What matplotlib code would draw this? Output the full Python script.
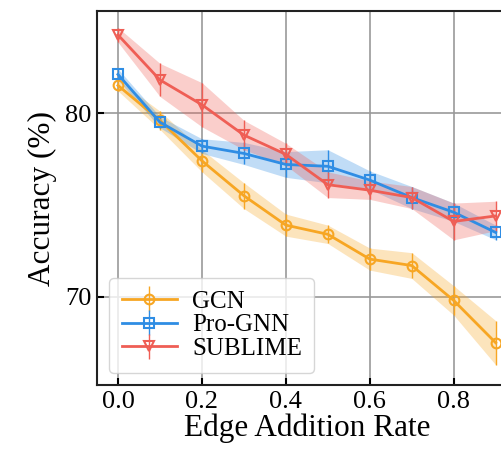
import numpy as np
import matplotlib.pyplot as plt

plt.rcParams['font.family'] = ['Liberation Serif', 'DejaVu Serif']
plt.rcParams['mathtext.fontset'] = 'stix'

rates = [0.0, 0.1, 0.2, 0.3, 0.4, 0.5, 0.6, 0.7, 0.8, 0.9]

gcn_mean = [81.5, 79.6, 77.4, 75.5, 73.9, 73.4, 72.05, 71.7, 69.8, 67.5]
gcn_std = [0.3, 0.5, 0.6, 0.7, 0.6, 0.5, 0.6, 0.7, 0.8, 1.2]

prognn_mean = [82.1, 79.5, 78.2, 77.8, 77.2, 77.1, 76.35, 75.4, 74.6, 73.5]
prognn_std = [0.3, 0.3, 0.4, 0.6, 0.7, 0.9, 0.5, 0.6, 0.5, 0.4]

sublime_mean = [84.25, 81.8, 80.45, 78.8, 77.75, 76.1, 75.8, 75.4, 74.1, 74.4]
sublime_std = [0.4, 0.9, 1.2, 0.8, 0.6, 0.7, 0.5, 0.6, 1.0, 0.8]

series = [
    ('GCN', gcn_mean, gcn_std, '#f7a623', 'o'),
    ('Pro-GNN', prognn_mean, prognn_std, '#2f8de4', 's'),
    ('SUBLIME', sublime_mean, sublime_std, '#ef5e55', 'v'),
]

fig = plt.figure(figsize=(5.01, 4.51), dpi=100)
# axes runs past the right edge of the figure, like the cropped original
ax = fig.add_axes([0.1936, 0.1463, 0.8377, 0.8293])

x = np.array(rates)
for name, mean, std, color, marker in series:
    mean = np.array(mean)
    std = np.array(std)
    ax.fill_between(x, mean - std, mean + std, color=color, alpha=0.3, linewidth=0)
    ax.errorbar(x, mean, yerr=std, color=color, marker=marker, markersize=7,
                markerfacecolor='none', markeredgewidth=1.5, linewidth=2,
                elinewidth=1, capsize=0, label=name)

ax.set_xlim(-0.05, 0.95)
ax.set_ylim(65.2, 85.55)
ax.set_xticks([0.0, 0.2, 0.4, 0.6, 0.8])
ax.set_yticks([70, 80])
ax.grid(True, color='#999999', linewidth=1.2)
ax.set_axisbelow(True)
ax.tick_params(direction='in', labelsize=19, length=5, width=1.5, pad=4)
for sp in ax.spines.values():
    sp.set_linewidth(1.5)
    sp.set_color('#222222')

ax.set_xlabel('Edge Addition Rate', fontsize=22.5, labelpad=1)
ax.set_ylabel('Accuracy (%)', fontsize=22.5, labelpad=6)

ax.legend(loc='lower left', fontsize=18, handlelength=2.2, borderaxespad=0.5,
          labelspacing=0.05, handletextpad=0.6, borderpad=0.5, framealpha=0.8)

fig.savefig('out.png', dpi=100)
